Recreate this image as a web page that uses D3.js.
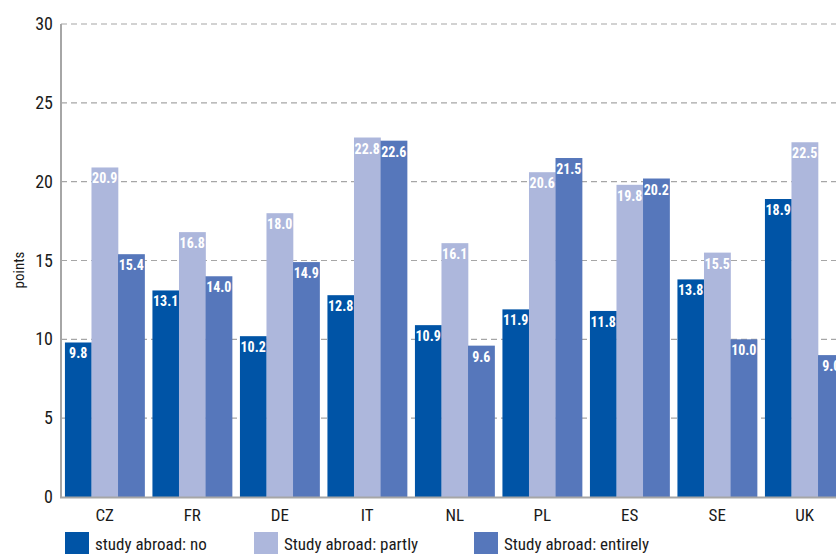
<!DOCTYPE html>
<html><head><meta charset="utf-8">
<script src="https://cdn.jsdelivr.net/npm/d3@7"></script>
<style>body{margin:0;background:#fff}svg{display:block}</style>
</head><body><svg id="c" width="836" height="554"></svg>
<script>
const categories = ["CZ","FR","DE","IT","NL","PL","ES","SE","UK"];
const seriesNames = ["study abroad: no","Study abroad: partly","Study abroad: entirely"];
const seriesNo = [9.8,13.1,10.2,12.8,10.9,11.9,11.8,13.8,18.9];
const seriesPartly = [20.9,16.8,18.0,22.8,16.1,20.6,19.8,15.5,22.5];
const seriesEntirely = [15.4,14.0,14.9,22.6,9.6,21.5,20.2,10.0,9.0];
const yTicks = [0,5,10,15,20,25,30];
const colors = ["#0054a6","#adb7dc","#5677bb"];

const FONT = "'Liberation Sans Narrow','Arial Narrow','Roboto Condensed','Liberation Sans',sans-serif";
const svg = d3.select("#c");
const series = [seriesNo, seriesPartly, seriesEntirely];

const y = d3.scaleLinear().domain([0,30]).range([497,24]);
const x0 = d3.scaleBand().domain(categories).range([61, 848.5]).paddingInner(0.09).paddingOuter(0.045);
const x1 = d3.scaleBand().domain([0,1,2]).range([0, x0.bandwidth()]);

// grid
svg.append("g").selectAll("line").data(yTicks.filter(d=>d>0)).join("line")
  .attr("x1",61).attr("x2",836).attr("y1",d=>y(d)).attr("y2",d=>y(d))
  .attr("stroke","#a6a6a6").attr("stroke-width",1.2).attr("stroke-dasharray","6,4");

// bars
const g = svg.append("g").selectAll("g").data(categories).join("g")
  .attr("transform",d=>`translate(${x0(d)},0)`);
g.selectAll("rect").data((c,i)=>series.map((s,k)=>({k,v:s[i]}))).join("rect")
  .attr("x",d=>x1(d.k)).attr("width",x1.bandwidth()+0.3)
  .attr("y",d=>y(d.v)).attr("height",d=>y(0)-y(d.v))
  .attr("fill",d=>colors[d.k]);
g.selectAll("text").data((c,i)=>series.map((s,k)=>({k,v:s[i]}))).join("text")
  .attr("x",d=>x1(d.k)+x1.bandwidth()/2).attr("y",d=>y(d.v)+16)
  .attr("text-anchor","middle").attr("fill","#fff")
  .attr("font-family",FONT).attr("font-weight","bold").attr("font-size",14)
  .text(d=>d.v.toFixed(1));

// axes lines
svg.append("line").attr("x1",61).attr("x2",61).attr("y1",24).attr("y2",497.5)
  .attr("stroke","#a6a6a6").attr("stroke-width",2);
svg.append("line").attr("x1",60).attr("x2",836).attr("y1",497.5).attr("y2",497.5)
  .attr("stroke","#a6a6a6").attr("stroke-width",2);

// y tick labels
svg.append("g").selectAll("text").data(yTicks).join("text")
  .attr("x",53).attr("y",d=>y(d)+6).attr("text-anchor","end")
  .attr("font-family",FONT).attr("font-size",18).attr("fill","#1a1a1a").text(d=>d);

svg.append("text").attr("transform","translate(24,270) rotate(-90)")
  .attr("text-anchor","middle").attr("font-family",FONT).attr("font-size",15).attr("fill","#1a1a1a").text("points");

// x labels
svg.append("g").selectAll("text").data(categories).join("text")
  .attr("x",d=>x0(d)+x0.bandwidth()/2).attr("y",521).attr("text-anchor","middle")
  .attr("font-family",FONT).attr("font-size",17).attr("fill","#1a1a1a").text(d=>d);

// legend
const legX = [65,254,474];
const lg = svg.append("g").selectAll("g").data(seriesNames).join("g")
  .attr("transform",(d,i)=>`translate(${legX[i]},532)`);
lg.append("rect").attr("width",24).attr("height",22).attr("fill",(d,i)=>colors[i]);
lg.append("text").attr("x",d=>30).attr("y",18)
  .attr("font-family",FONT).attr("font-size",17).attr("fill","#1a1a1a").text(d=>d);
</script></body></html>
